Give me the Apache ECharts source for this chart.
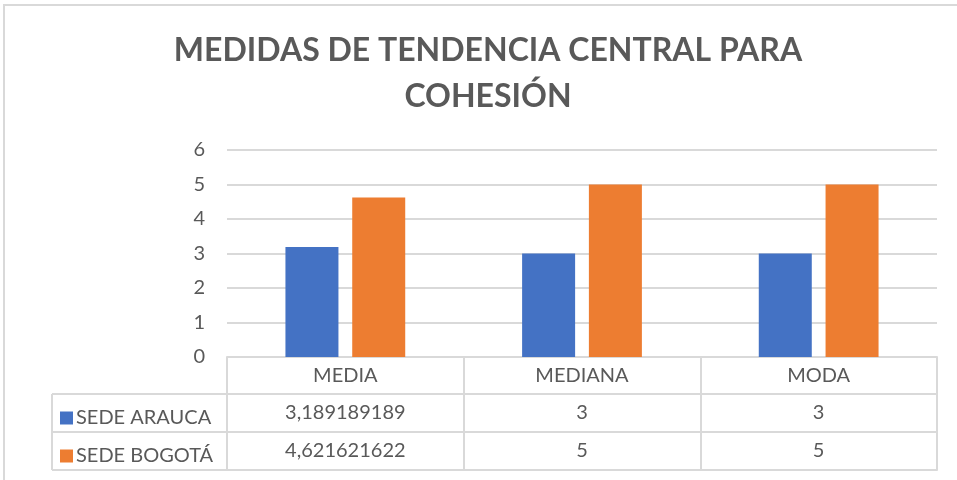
<!DOCTYPE html>
<html>
<head>
<meta charset="utf-8">
<script src="https://cdn.jsdelivr.net/npm/echarts@6/dist/echarts.min.js"></script>
<style>
  html, body { margin: 0; padding: 0; background: #fff; }
  #chart { width: 957px; height: 480px; }
</style>
</head>
<body>
<div id="chart"></div>
<script>
const categories = ['MEDIA', 'MEDIANA', 'MODA']
const seriesNames = ['SEDE ARAUCA', 'SEDE BOGOTÁ']
const araucaValues = [3.189189189, 3, 3]
const bogotaValues = [4.621621622, 5, 5]
const yTicks = [0, 1, 2, 3, 4, 5, 6]

const textColor = '#595959'
const lineColor = '#d9d9d9'
const font = 'Lato, "Open Sans", sans-serif'
const fs = 20

// comma decimal, like the source sheet
const fmt = v => String(v).replace('.', ',')

const gridLeft = 227
const gridRight = 20
const axisY = 357
const rowH = 38

const chart = echarts.init(document.getElementById('chart'))

// each extra x axis draws one row line of the data table, labels sit in the row below it
const tableAxis = (offset, values) => ({
  type: 'category',
  data: categories,
  position: 'bottom',
  offset: offset,
  axisLine: { show: true, lineStyle: { color: lineColor, width: 2 } },
  axisTick: { show: false },
  axisLabel: {
    show: !!values,
    interval: 0,
    margin: 9,
    color: textColor,
    fontSize: fs,
    fontFamily: font,
    formatter: (v, i) => values ? fmt(values[i]) : ''
  }
})

const options = {
  backgroundColor: '#fff',
  animation: false,
  title: {
    text: 'MEDIDAS DE TENDENCIA CENTRAL PARA\nCOHESIÓN',
    left: 483,
    textAlign: 'center',
    top: 23,
    textStyle: {
      color: textColor,
      fontSize: 32,
      fontWeight: 'bold',
      fontFamily: font,
      lineHeight: 46
    }
  },
  legend: {
    orient: 'vertical',
    left: 55,
    top: 402,
    icon: 'rect',
    itemWidth: 13,
    itemHeight: 13,
    itemGap: 16,
    data: seriesNames,
    textStyle: { color: textColor, fontSize: fs, fontFamily: font, lineHeight: 22, padding: [0, 0, 0, -2] }
  },
  grid: { left: gridLeft, right: gridRight, top: 150, bottom: 480 - axisY },
  xAxis: [
    {
      type: 'category',
      data: categories,
      position: 'bottom',
      axisLine: { show: true, lineStyle: { color: lineColor, width: 2 } },
      axisTick: { show: true, interval: 0, length: 37 + rowH * 2, lineStyle: { color: lineColor, width: 2 } },
      axisLabel: { interval: 0, margin: 9, color: textColor, fontSize: fs, fontFamily: font }
    },
    tableAxis(37, araucaValues),
    tableAxis(37 + rowH, bogotaValues),
    tableAxis(37 + rowH * 2, null)
  ],
  yAxis: {
    type: 'value',
    min: 0,
    max: 6,
    interval: 1,
    axisLine: { show: false },
    axisTick: { show: false },
    axisLabel: {
      color: textColor,
      fontSize: fs,
      fontFamily: font,
      margin: 22,
      formatter: v => yTicks.includes(v) ? String(v) : ''
    },
    splitLine: { lineStyle: { color: lineColor, width: 2 } }
  },
  series: [
    {
      name: seriesNames[0],
      type: 'bar',
      data: araucaValues,
      barWidth: 53,
      barGap: '26%',
      itemStyle: { color: '#4472c4' }
    },
    {
      name: seriesNames[1],
      type: 'bar',
      data: bogotaValues,
      barWidth: 53,
      barGap: '26%',
      itemStyle: { color: '#ed7d31' }
    }
  ],
  graphic: [
    // outer chart frame
    { type: 'rect', shape: { x: 4, y: 5, width: 1000, height: 500 }, style: { fill: 'none', stroke: lineColor, lineWidth: 2 }, silent: true },
    // left part of the data table (legend column)
    { type: 'line', shape: { x1: 52, y1: axisY + 37, x2: gridLeft, y2: axisY + 37 }, style: { stroke: lineColor, lineWidth: 2 } },
    { type: 'line', shape: { x1: 52, y1: axisY + 37 + rowH, x2: gridLeft, y2: axisY + 37 + rowH }, style: { stroke: lineColor, lineWidth: 2 } },
    { type: 'line', shape: { x1: 52, y1: axisY + 37 + rowH * 2, x2: gridLeft, y2: axisY + 37 + rowH * 2 }, style: { stroke: lineColor, lineWidth: 2 } },
    { type: 'line', shape: { x1: 52, y1: axisY + 37, x2: 52, y2: axisY + 37 + rowH * 2 }, style: { stroke: lineColor, lineWidth: 2 } }
  ]
}

chart.setOption(options)
</script>
</body>
</html>
